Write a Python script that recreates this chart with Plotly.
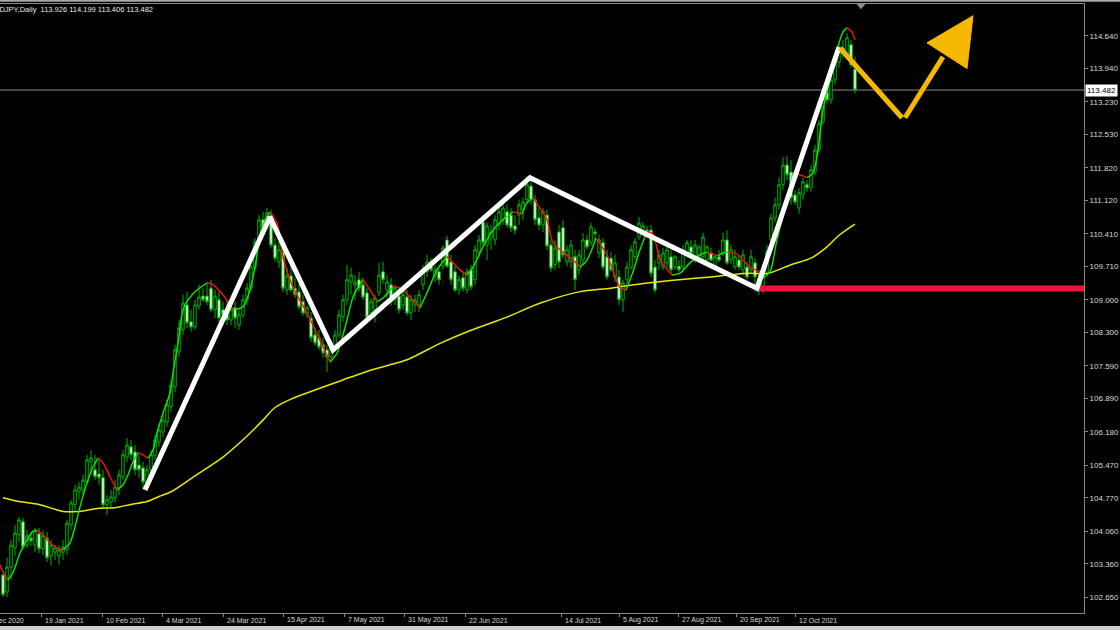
import plotly.graph_objects as go

# ---------------- data ----------------
opens = [103.12, 102.76, 103.29, 103.70, 103.98, 104.26, 103.76, 103.91, 103.76, 104.00,
         103.68, 103.91, 103.53, 103.61, 103.53, 103.61, 103.66, 104.19, 104.62, 104.90,
         104.94, 105.11, 105.54, 105.37, 105.28, 105.20, 104.62, 104.68, 104.77, 104.98,
         105.22, 105.64, 105.86, 105.75, 105.47, 105.41, 105.11, 105.37, 105.67, 105.96,
         106.18, 106.39, 106.72, 107.14, 107.89, 108.36, 108.89, 108.53, 108.42, 108.87,
         109.08, 109.08, 109.25, 108.79, 109.00, 108.79, 108.74, 108.57, 108.83, 108.46,
         108.68, 109.00, 109.25, 109.70, 110.24, 110.71, 110.58, 110.81, 110.17, 109.81,
         110.02, 109.21, 109.51, 109.25, 109.17, 108.96, 108.70, 108.61, 108.25, 108.19,
         108.04, 107.93, 107.78, 107.98, 108.25, 108.64, 109.00, 109.38, 109.32, 109.43,
         109.32, 109.15, 108.72, 108.79, 109.15, 109.60, 109.21, 109.32, 109.00, 109.08,
         108.89, 109.06, 108.72, 108.89, 108.89, 109.32, 109.60, 109.81, 109.51, 109.60,
         109.72, 110.28, 109.81, 109.60, 109.21, 109.47, 109.21, 109.64, 109.43, 110.02,
         110.66, 110.17, 110.32, 110.28, 110.60, 110.71, 110.88, 110.81, 110.58, 110.81,
         110.92, 111.14, 111.43, 111.14, 110.75, 110.60, 110.81, 110.17, 109.75, 110.45,
         110.54, 109.81, 109.81, 109.92, 109.64, 109.85, 110.28, 110.22, 110.45, 110.00,
         110.22, 109.92, 109.89, 109.49, 109.49, 109.00, 109.43, 109.70, 109.92, 110.34,
         110.49, 110.49, 110.49, 109.70, 109.79, 109.70, 109.79, 109.92, 109.70, 109.72,
         109.70, 110.00, 110.13, 109.85, 109.85, 109.92, 109.85, 110.00, 109.70, 109.92,
         110.00, 110.28, 109.85, 109.70, 109.85, 109.64, 109.70, 109.64, 109.79, 109.45,
         109.28, 109.58, 110.28, 110.75, 111.03, 111.46, 111.88, 111.73, 111.24, 110.96,
         111.24, 111.46, 111.39, 111.73, 112.20, 112.80, 113.44, 113.27, 113.70, 114.08,
         114.38, 114.23, 114.45, 113.926]
highs = [103.17, 103.49, 103.87, 104.19, 104.36, 104.34, 104.08, 104.04, 104.13, 104.13,
         104.08, 104.04, 103.87, 103.76, 103.76, 103.87, 104.30, 104.73, 105.05, 105.11,
         105.26, 105.69, 105.79, 105.69, 105.58, 105.37, 104.83, 104.94, 105.15, 105.37,
         105.79, 106.05, 106.01, 105.90, 105.69, 105.54, 105.47, 105.79, 106.11, 106.33,
         106.54, 106.86, 107.29, 108.04, 108.57, 109.11, 109.17, 108.79, 109.00, 109.32,
         109.25, 109.38, 109.43, 109.21, 109.17, 108.96, 109.00, 108.89, 108.96, 108.79,
         109.11, 109.36, 109.81, 110.32, 110.81, 110.88, 110.96, 110.92, 110.32, 110.28,
         110.17, 109.68, 109.75, 109.47, 109.32, 109.11, 108.89, 108.74, 108.40, 108.36,
         108.19, 108.04, 108.14, 108.36, 108.79, 109.11, 109.75, 109.68, 109.53, 109.60,
         109.47, 109.25, 109.04, 109.11, 109.79, 109.81, 109.53, 109.47, 109.32, 109.25,
         109.21, 109.21, 109.11, 109.11, 109.21, 109.75, 109.96, 109.89, 109.75, 109.68,
         110.17, 110.37, 109.96, 109.72, 109.51, 109.60, 109.68, 109.75, 110.17, 110.39,
         110.81, 110.66, 110.60, 110.81, 111.03, 111.14, 111.03, 110.96, 110.81, 111.14,
         111.18, 111.65, 111.56, 111.24, 110.96, 110.96, 110.92, 110.28, 110.28, 110.60,
         110.71, 110.17, 110.28, 110.07, 110.07, 110.43, 110.39, 110.64, 110.54, 110.39,
         110.32, 110.07, 110.02, 109.96, 109.64, 109.43, 109.81, 110.17, 110.32, 110.77,
         110.66, 110.58, 110.60, 109.85, 110.07, 110.11, 110.17, 110.07, 109.96, 109.85,
         110.17, 110.28, 110.28, 110.28, 110.17, 110.43, 110.17, 110.11, 109.96, 110.07,
         110.43, 110.49, 110.17, 110.07, 109.96, 110.07, 109.81, 110.07, 109.89, 109.64,
         109.64, 110.17, 110.84, 111.18, 111.61, 112.05, 112.07, 111.99, 111.35, 111.39,
         111.61, 111.56, 111.88, 112.31, 112.85, 113.44, 113.53, 113.78, 114.23, 114.45,
         114.55, 114.70, 114.55, 114.199]
lows = [102.65, 102.65, 103.02, 103.53, 103.83, 103.66, 103.70, 103.74, 103.61, 103.59,
        103.55, 103.40, 103.32, 103.44, 103.34, 103.44, 103.55, 104.08, 104.47, 104.73,
        104.83, 105.05, 105.26, 105.15, 105.05, 104.55, 104.40, 104.55, 104.66, 104.83,
        105.15, 105.54, 105.58, 105.26, 105.20, 104.94, 105.00, 105.26, 105.58, 105.86,
        106.07, 106.29, 106.61, 107.03, 107.78, 108.25, 108.40, 108.32, 108.36, 108.79,
        108.96, 108.89, 108.74, 108.61, 108.53, 108.57, 108.46, 108.46, 108.40, 108.36,
        108.61, 108.89, 109.17, 109.64, 110.15, 110.45, 110.49, 110.11, 109.81, 109.68,
        109.17, 109.11, 109.17, 109.04, 108.79, 108.66, 108.61, 108.10, 108.02, 107.93,
        107.76, 107.46, 107.67, 107.89, 108.19, 108.53, 108.89, 109.11, 109.00, 109.17,
        109.00, 108.57, 108.61, 108.51, 109.08, 109.34, 109.04, 108.87, 108.89, 108.70,
        108.79, 108.66, 108.57, 108.74, 108.74, 109.21, 109.49, 109.60, 109.38, 109.32,
        109.64, 109.68, 109.32, 109.17, 109.11, 109.17, 109.13, 109.21, 109.32, 109.89,
        110.15, 109.85, 110.07, 110.17, 110.49, 110.60, 110.54, 110.45, 110.39, 110.60,
        110.71, 111.07, 111.03, 110.60, 110.49, 110.45, 110.07, 109.60, 109.64, 109.68,
        109.89, 109.72, 109.68, 109.21, 109.53, 109.75, 110.07, 110.15, 110.28, 109.89,
        109.64, 109.43, 109.60, 109.38, 108.89, 108.74, 109.32, 109.64, 109.85, 110.28,
        110.37, 110.37, 109.49, 109.15, 109.64, 109.64, 109.68, 109.57, 109.64, 109.60,
        109.64, 109.94, 109.94, 109.79, 109.81, 109.85, 109.81, 109.81, 109.64, 109.81,
        109.94, 109.75, 109.77, 109.64, 109.64, 109.53, 109.43, 109.55, 109.17, 109.11,
        109.13, 109.51, 110.22, 110.66, 110.92, 111.35, 111.56, 111.03, 111.03, 110.84,
        111.14, 111.31, 111.31, 111.67, 112.14, 112.74, 113.19, 113.19, 113.61, 113.96,
        114.17, 114.13, 113.96, 113.406]
closes = [102.70, 103.29, 103.76, 104.02, 104.30, 103.72, 103.96, 103.85, 104.06, 103.68,
          103.96, 103.49, 103.76, 103.70, 103.66, 103.72, 104.23, 104.66, 104.94, 105.00,
          105.15, 105.58, 105.62, 105.22, 105.20, 104.62, 104.73, 104.79, 105.00, 105.26,
          105.69, 105.90, 105.69, 105.37, 105.37, 105.11, 105.37, 105.69, 106.01, 106.22,
          106.43, 106.76, 107.18, 107.93, 108.40, 108.93, 108.51, 108.42, 108.89, 109.06,
          109.00, 108.96, 108.79, 109.08, 108.61, 108.68, 108.57, 108.79, 108.61, 108.68,
          109.00, 109.25, 109.70, 110.24, 110.71, 110.54, 110.86, 110.17, 109.89, 110.07,
          109.25, 109.51, 109.21, 109.11, 108.85, 108.72, 108.83, 108.19, 108.08, 107.99,
          107.87, 107.78, 108.04, 108.25, 108.68, 109.00, 109.43, 109.53, 109.38, 109.25,
          109.06, 108.63, 108.96, 109.04, 109.53, 109.43, 109.38, 108.96, 109.25, 108.79,
          109.11, 108.72, 109.00, 109.00, 109.11, 109.64, 109.81, 109.64, 109.64, 109.43,
          110.11, 109.72, 109.43, 109.21, 109.43, 109.25, 109.60, 109.28, 110.07, 110.28,
          110.22, 110.58, 110.45, 110.71, 110.88, 110.96, 110.60, 110.54, 110.49, 111.03,
          111.09, 111.46, 111.14, 110.71, 110.60, 110.88, 110.15, 109.68, 110.11, 109.81,
          109.96, 110.07, 110.17, 109.43, 109.96, 110.28, 110.13, 110.56, 110.41, 110.28,
          109.70, 109.49, 109.64, 109.79, 109.00, 109.36, 109.70, 110.07, 110.24, 110.64,
          110.58, 110.43, 109.57, 109.21, 109.96, 110.00, 110.07, 109.64, 109.92, 109.64,
          110.07, 110.22, 110.00, 110.17, 110.13, 110.34, 110.13, 109.85, 109.92, 109.85,
          110.28, 109.79, 110.07, 109.92, 109.70, 109.96, 109.49, 109.92, 109.49, 109.32,
          109.58, 110.04, 110.75, 111.03, 111.46, 111.88, 111.67, 111.18, 111.09, 111.29,
          111.52, 111.39, 111.78, 112.20, 112.76, 113.36, 113.27, 113.70, 114.13, 114.34,
          114.25, 114.60, 114.02, 113.482]
bars = list(range(len(closes)))

# long moving average (yellow)
ma_bars = [0, 4, 9, 15, 19, 24, 28, 32, 36, 39, 42, 48, 55, 60, 65, 68, 72, 87, 92, 101,
           109, 117, 126, 134, 144, 152, 161, 169, 177, 186, 191, 197, 202, 206, 209, 213]
ma_vals = [104.77, 104.69, 104.63, 104.48, 104.48, 104.55, 104.56, 104.63, 104.69, 104.80,
           104.90, 105.24, 105.64, 106.01, 106.43, 106.70, 106.88, 107.35, 107.50, 107.72,
           108.06, 108.35, 108.63, 108.92, 109.17, 109.25, 109.36, 109.43, 109.49, 109.57,
           109.56, 109.75, 109.89, 110.13, 110.38, 110.62]

# short smoothed trend line (green rising / red falling)
sig_bars = [-0.75, 0.25, 1.25, 2.5, 4.25, 6, 7.5, 8.5, 10, 11.75,
            13.5, 15, 16.75, 18, 19.25, 21, 22.5, 23.75, 25, 26.75,
            28.5, 30, 31.25, 32.5, 33.75, 35, 36.25, 37.5, 38.5, 40,
            41.75, 42.5, 43.75, 45, 46.25, 48.5, 51, 52.25, 53.5, 56,
            57.5, 58.75, 60, 61.75, 63, 64.25, 65.5, 66.75, 68.5, 70,
            72.5, 76, 79.25, 81.75, 83.5, 86, 87.5, 90, 91.75, 93.5,
            95, 97.5, 99.25, 101.75, 104.25, 106, 108.5, 111, 112.5, 114.25,
            116, 117.5, 120, 122.5, 125, 127.5, 128.75, 129.75, 131, 132.5,
            134.25, 136, 137.5, 139.25, 142.5, 144.25, 146, 148.25, 151, 152.5,
            154.25, 155.75, 157.5, 159.25, 161, 162.5, 164.25, 167.25, 169.25, 171.75,
            174.25, 176, 177.5, 178.75, 180, 181.25, 183.5, 185, 186.75, 188.5,
            190, 191.75, 193.5, 196, 197.5, 199.25, 201, 202.5, 203.75, 205,
            206.75, 208.5, 210, 211, 212.25, 213]
sig_vals = [103.34, 103.15, 103.02, 103.17, 103.59, 103.87, 104.06, 104.08, 103.98, 103.81,
            103.70, 103.66, 103.81, 104.15, 104.58, 105.09, 105.43, 105.62, 105.52, 105.22,
            104.94, 105.05, 105.26, 105.54, 105.73, 105.69, 105.62, 105.79, 106.16, 106.58,
            107.01, 107.44, 108.08, 108.79, 109.00, 109.21, 109.36, 109.34, 109.25, 109.00,
            108.79, 108.81, 108.85, 109.21, 109.70, 110.34, 110.71, 110.88, 110.64, 109.92,
            109.27, 108.72, 108.14, 107.67, 107.86, 108.57, 109.06, 109.43, 109.21, 108.96,
            109.04, 109.28, 109.25, 109.06, 108.83, 109.15, 109.64, 109.92, 109.79, 109.64,
            109.53, 109.70, 110.13, 110.49, 110.71, 110.88, 110.86, 110.84, 111.07, 111.18,
            110.96, 110.71, 110.22, 110.07, 109.85, 109.70, 109.85, 110.32, 109.96, 109.62,
            109.27, 109.21, 109.60, 110.07, 110.45, 110.41, 109.85, 109.53, 109.57, 109.79,
            109.96, 110.02, 109.98, 109.94, 110.00, 110.02, 109.98, 109.85, 109.70, 109.62,
            109.47, 109.60, 110.28, 111.14, 111.71, 111.67, 111.61, 111.71, 112.20, 113.06,
            113.70, 114.34, 114.72, 114.81, 114.72, 114.55]

# hand-drawn analysis
zigzag_bars = [35.5, 66.75, 82.5, 131.75, 188.5, 209]
zigzag_vals = [104.94, 110.77, 107.93, 111.61, 109.25, 114.40]
proj_down_bars = [209.25, 224.75]
proj_down_vals = [114.38, 112.89]
proj_up_bars = [225.5, 235]
proj_up_vals = [112.89, 114.19]
arrow_bars = [231, 242.5, 241]
arrow_vals = [114.49, 115.07, 113.94]
support_bars = [188.5, 272]
support_level = 109.24
bid_price = 113.482
title_text = "USDJPY,Daily  113.926 114.199 113.406 113.482"

price_ticks = [102.650, 103.360, 104.060, 104.770, 105.470, 106.180, 106.890, 107.590, 108.300,
               109.000, 109.710, 110.410, 111.120, 111.820, 112.530, 113.230, 113.940, 114.640]
date_labels = ["28 Dec 2020", "19 Jan 2021", "10 Feb 2021", "4 Mar 2021", "24 Mar 2021",
               "15 Apr 2021", "7 May 2021", "31 May 2021", "22 Jun 2021", "14 Jul 2021",
               "5 Aug 2021", "27 Aug 2021", "20 Sep 2021", "12 Oct 2021"]
date_bars = [-5.75, 9.5, 24.75, 39.75, 55, 70, 85.25, 100.25, 115.5, 139.5, 154, 168.75, 183.25, 198]

X_RANGE = [-0.75, 270.25]
Y_RANGE = [102.31, 115.32]
FONT = "Liberation Sans, Arial, sans-serif"
AXIS_GRAY = "#8a8a8a"
TXT = "#d8d8d8"
CANDLE_GREEN = "#00b400"

fig = go.Figure()

fig.add_trace(go.Candlestick(
    x=bars, open=opens, high=highs, low=lows, close=closes,
    increasing=dict(line=dict(color=CANDLE_GREEN, width=1), fillcolor="#000000"),
    decreasing=dict(line=dict(color=CANDLE_GREEN, width=1), fillcolor="#ffffff"),
    whiskerwidth=0, hoverinfo="skip", showlegend=False))

fig.add_trace(go.Scatter(x=ma_bars, y=ma_vals, mode="lines",
                         line=dict(color="#e8e800", width=1.5, shape="spline", smoothing=0.8),
                         hoverinfo="skip", showlegend=False))

# colour the trend line by direction
segs = []
cur = None
for k in range(len(sig_bars) - 1):
    col = "#00ee00" if sig_vals[k + 1] >= sig_vals[k] else "#ff1010"
    if col != cur:
        segs.append([col, [sig_bars[k]], [sig_vals[k]]])
        cur = col
    segs[-1][1].append(sig_bars[k + 1])
    segs[-1][2].append(sig_vals[k + 1])
for col, xs, ys in segs:
    fig.add_trace(go.Scatter(x=xs, y=ys, mode="lines",
                             line=dict(color=col, width=1.4, shape="spline", smoothing=0.8),
                             hoverinfo="skip", showlegend=False))

fig.add_trace(go.Scatter(x=support_bars, y=[support_level] * 2, mode="lines",
                         line=dict(color="#f0143c", width=6), hoverinfo="skip", showlegend=False))
fig.add_trace(go.Scatter(x=zigzag_bars, y=zigzag_vals, mode="lines",
                         line=dict(color="#ffffff", width=5), hoverinfo="skip", showlegend=False))
for xs, ys in [(proj_down_bars, proj_down_vals), (proj_up_bars, proj_up_vals)]:
    fig.add_trace(go.Scatter(x=xs, y=ys, mode="lines",
                             line=dict(color="#f7b800", width=5), hoverinfo="skip", showlegend=False))
fig.add_trace(go.Scatter(x=arrow_bars + [arrow_bars[0]], y=arrow_vals + [arrow_vals[0]],
                         mode="lines", fill="toself", fillcolor="#f7b800",
                         line=dict(color="#f7b800", width=1), hoverinfo="skip", showlegend=False))

shapes = [
    dict(type="line", xref="paper", yref="y", x0=0, x1=1, y0=bid_price, y1=bid_price,
         line=dict(color="#8c8c8c", width=1), layer="below"),
    dict(type="path", xref="x", yref="paper",
         path="M 213.4 1.0 L 215.6 1.0 L 214.5 0.9915 Z",
         fillcolor="#7d8ca3", line=dict(width=0)),
    dict(type="rect", xref="paper", yref="paper", x0=-0.01, x1=1.05, y0=1.0035, y1=1.0075,
         fillcolor="#a8a8a8", line=dict(width=0)),
    dict(type="rect", xref="paper", yref="paper", x0=-0.01, x1=1.05, y0=-0.0285, y1=-0.0215,
         fillcolor="#cfcfcf", line=dict(width=0)),
]

annotations = [
    dict(xref="paper", yref="paper", x=-0.0122, y=0.9905, xanchor="left", yanchor="middle",
         text=title_text, showarrow=False, font=dict(family=FONT, size=7.5, color="#e8e8e8")),
    dict(xref="paper", yref="y", x=1, y=bid_price, xanchor="left", yanchor="middle", xshift=1,
         text=f"{bid_price:.3f}", showarrow=False, bgcolor="#ffffff", borderpad=1,
         font=dict(family=FONT, size=8, color="#000000")),
]
for lab, b in zip(date_labels, date_bars):
    annotations.append(dict(xref="paper", yref="paper",
                            x=(b - X_RANGE[0]) / (X_RANGE[1] - X_RANGE[0]), y=-0.0115,
                            xanchor="left", yanchor="middle", xshift=2, text=lab, showarrow=False,
                            font=dict(family=FONT, size=7, color=TXT)))

fig.update_layout(
    width=1120, height=630,
    margin=dict(l=0, r=36, t=4, b=17),
    paper_bgcolor="#000000", plot_bgcolor="#000000",
    showlegend=False, boxgap=0.12,
    shapes=shapes, annotations=annotations,
    xaxis=dict(range=X_RANGE, showgrid=False, zeroline=False, showline=True, mirror=True,
               linecolor=AXIS_GRAY, linewidth=1, ticks="outside", ticklen=3, tickcolor=AXIS_GRAY,
               tickvals=[b for b in date_bars if b >= X_RANGE[0]], showticklabels=False,
               rangeslider=dict(visible=False), fixedrange=True),
    yaxis=dict(range=Y_RANGE, side="right", showgrid=False, zeroline=False, showline=True,
               linecolor=AXIS_GRAY, linewidth=1, ticks="outside", ticklen=3, tickcolor=AXIS_GRAY,
               tickvals=price_ticks, ticktext=[f"{v:.3f}" for v in price_ticks],
               tickfont=dict(family=FONT, size=8, color=TXT), fixedrange=True),
)

fig.write_html("out.html", config={"displayModeBar": False},
               post_script="document.body.style.margin='0px';document.body.style.background='#000';")
